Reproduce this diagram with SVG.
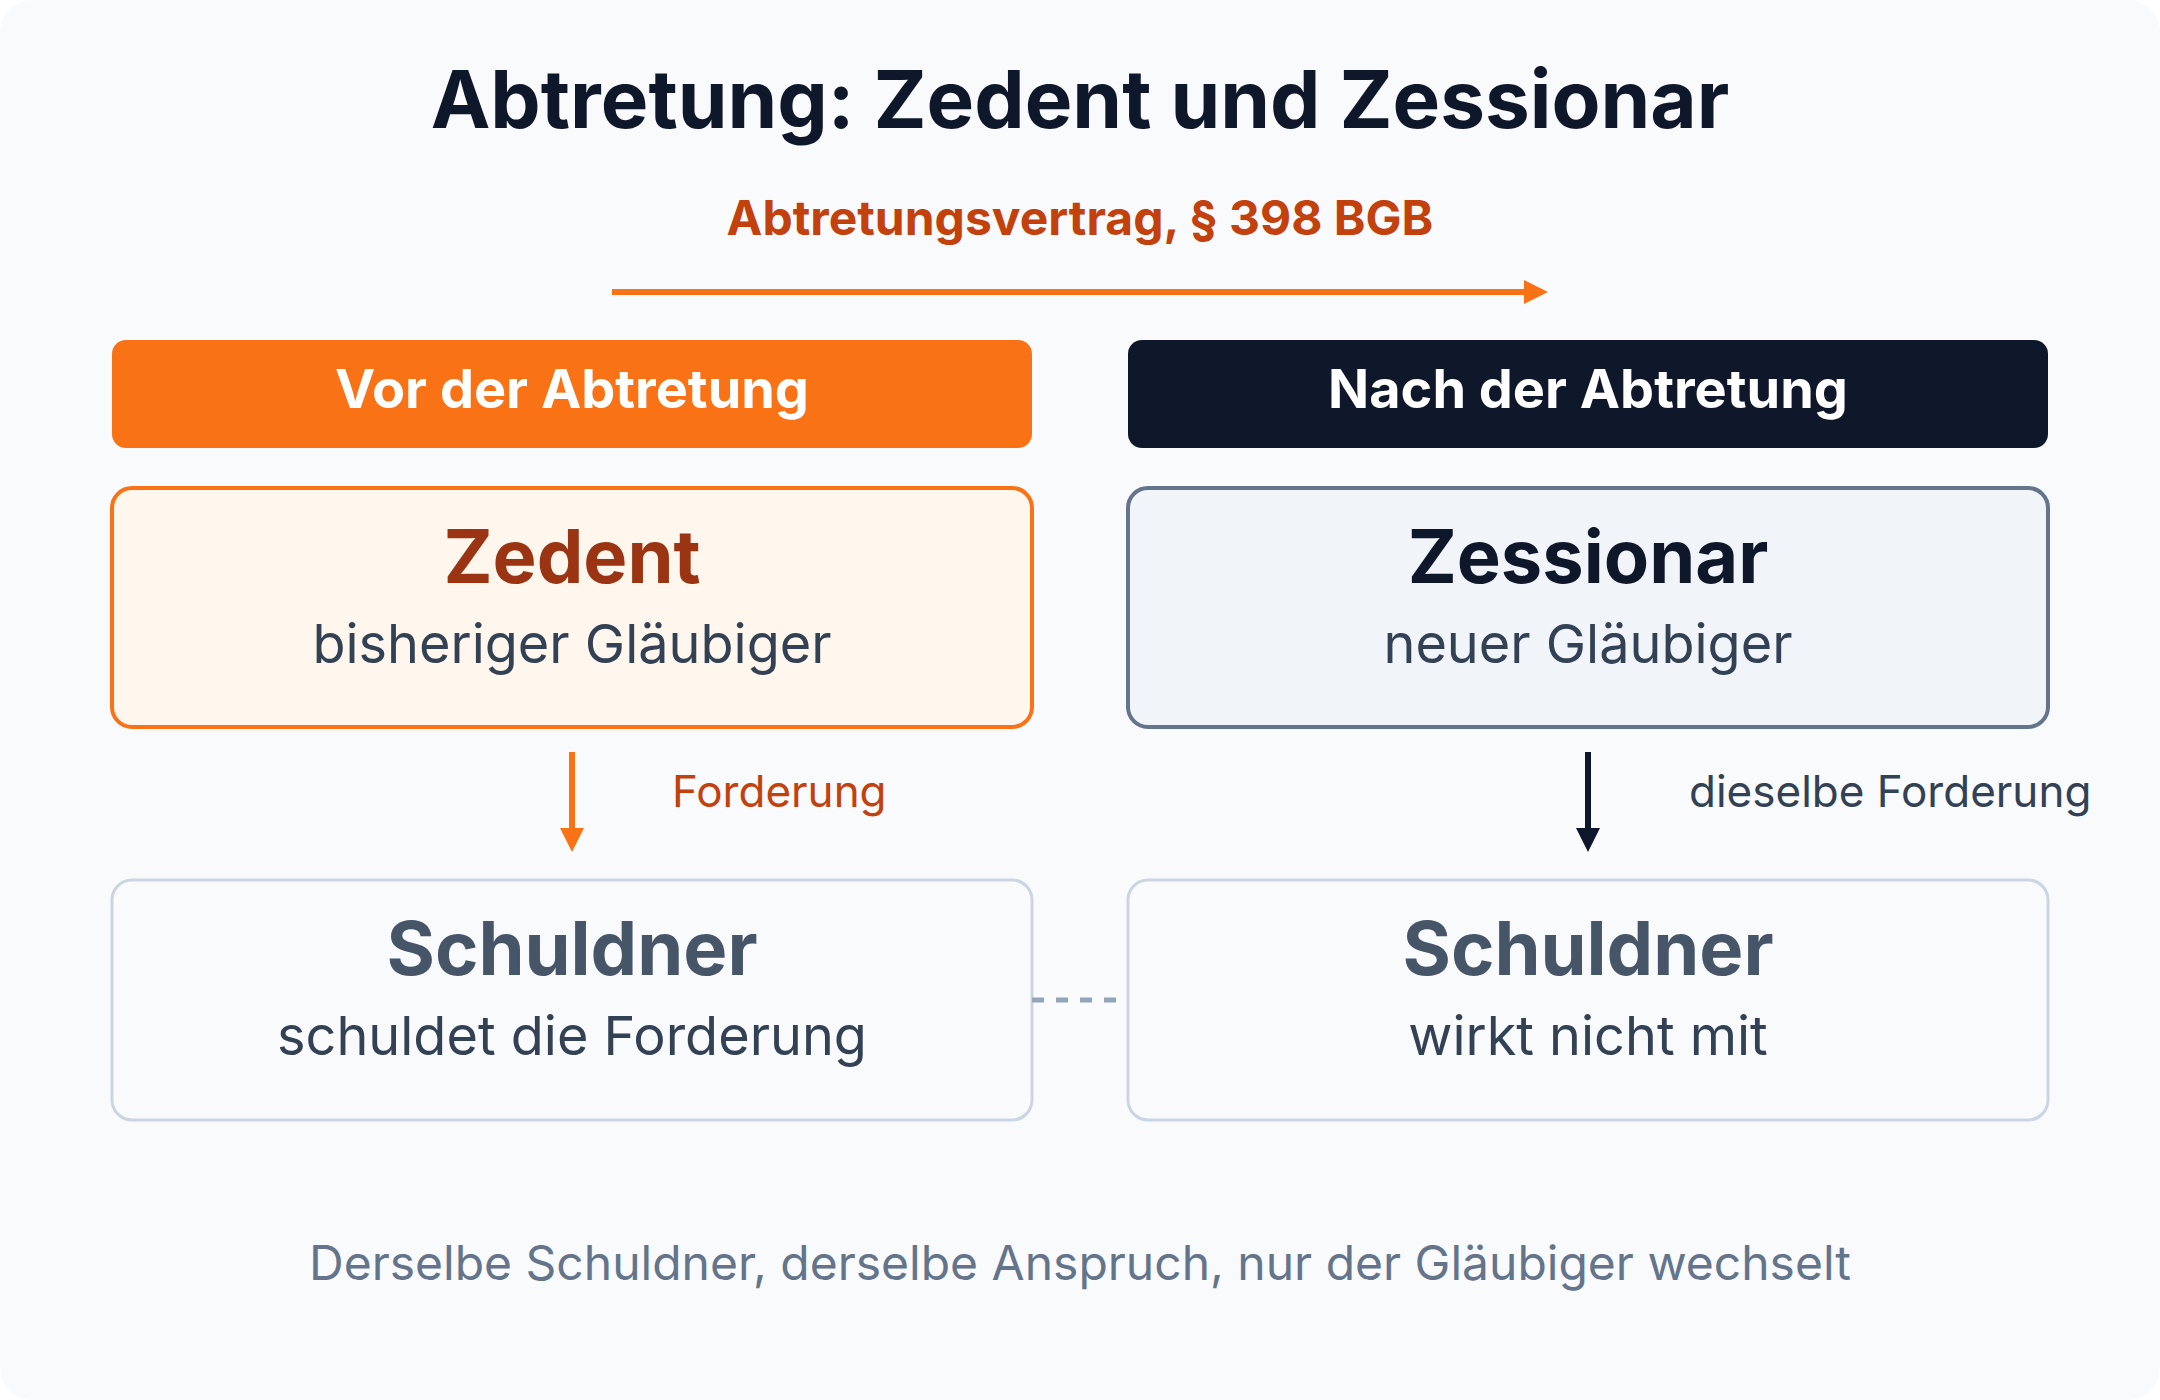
<svg xmlns="http://www.w3.org/2000/svg" width="2160" height="1400" viewBox="0 0 2160 1400">
  <defs>
    <style>
      text { font-family: Inter, "Noto Sans", "Liberation Sans", sans-serif; }
      .title { font-size: 80px; font-weight: 700; fill: #0f172a; text-anchor: middle; }
      .sub { font-size: 48px; font-weight: 700; fill: #c2410c; text-anchor: middle; }
      .hdr { font-size: 54px; font-weight: 700; fill: #ffffff; text-anchor: middle; }
      .name { font-size: 74px; font-weight: 700; text-anchor: middle; }
      .role { font-size: 54px; font-weight: 400; fill: #334155; text-anchor: middle; }
      .lbl { font-size: 44px; font-weight: 400; }
      .foot { font-size: 48px; font-weight: 400; fill: #64748b; text-anchor: middle; }
    </style>
    <marker id="headOrange" markerWidth="24" markerHeight="24" refX="0" refY="12" markerUnits="userSpaceOnUse" orient="auto">
      <path d="M0,0 L24,12 L0,24 Z" fill="#f97316"/>
    </marker>
    <marker id="headDark" markerWidth="24" markerHeight="24" refX="0" refY="12" markerUnits="userSpaceOnUse" orient="auto">
      <path d="M0,0 L24,12 L0,24 Z" fill="#0f172a"/>
    </marker>
  </defs>

  <rect x="0" y="0" width="2160" height="1400" fill="#ffffff"/>
  <rect x="0" y="0" width="2160" height="1400" rx="32" ry="32" fill="#f8fafc"/>

  <text class="title" x="1080" y="128">Abtretung: Zedent und Zessionar</text>
  <text class="sub" x="1080" y="235">Abtretungsvertrag, § 398 BGB</text>

  <g id="header-vor">
    <rect x="112" y="340" width="920" height="108" rx="14" fill="#f97316"/>
    <text class="hdr" x="572" y="408">Vor der Abtretung</text>
  </g>
  <g id="header-nach">
    <rect x="1128" y="340" width="920" height="108" rx="14" fill="#0f172a"/>
    <text class="hdr" x="1588" y="408">Nach der Abtretung</text>
  </g>

  <g id="node-zedent">
    <rect x="112" y="488" width="920" height="239" rx="20" fill="#fff7ed" stroke="#f97316" stroke-width="4"/>
    <text class="name" x="572" y="583" fill="#9a3412">Zedent</text>
    <text class="role" x="572" y="663">bisheriger Gläubiger</text>
  </g>
  <g id="node-zessionar">
    <rect x="1128" y="488" width="920" height="239" rx="20" fill="#f1f5f9" stroke="#64748b" stroke-width="4"/>
    <text class="name" x="1588" y="583" fill="#0f172a">Zessionar</text>
    <text class="role" x="1588" y="663">neuer Gläubiger</text>
  </g>

  <g id="node-schuldner-vor">
    <rect x="112" y="880" width="920" height="240" rx="20" fill="#f8fafc" stroke="#cbd5e1" stroke-width="3"/>
    <text class="name" x="572" y="975" fill="#475569">Schuldner</text>
    <text class="role" x="572" y="1055">schuldet die Forderung</text>
  </g>
  <g id="node-schuldner-nach">
    <rect x="1128" y="880" width="920" height="240" rx="20" fill="#f8fafc" stroke="#cbd5e1" stroke-width="3"/>
    <text class="name" x="1588" y="975" fill="#475569">Schuldner</text>
    <text class="role" x="1588" y="1055">wirkt nicht mit</text>
  </g>

  <g id="connectors">
    <line x1="612" y1="292" x2="1524" y2="292" stroke="#f97316" stroke-width="6" marker-end="url(#headOrange)"/>
    <line x1="572" y1="752" x2="572" y2="828" stroke="#f97316" stroke-width="6" marker-end="url(#headOrange)"/>
    <text class="lbl" x="672" y="807" fill="#c2410c">Forderung</text>
    <line x1="1588" y1="752" x2="1588" y2="828" stroke="#0f172a" stroke-width="6" marker-end="url(#headDark)"/>
    <text class="lbl" x="1689" y="807" fill="#334155">dieselbe Forderung</text>
    <line x1="1032" y1="1000" x2="1128" y2="1000" stroke="#94a3b8" stroke-width="5" stroke-dasharray="12 12"/>
  </g>

  <text class="foot" x="1080" y="1280">Derselbe Schuldner, derselbe Anspruch, nur der Gläubiger wechselt</text>
</svg>
